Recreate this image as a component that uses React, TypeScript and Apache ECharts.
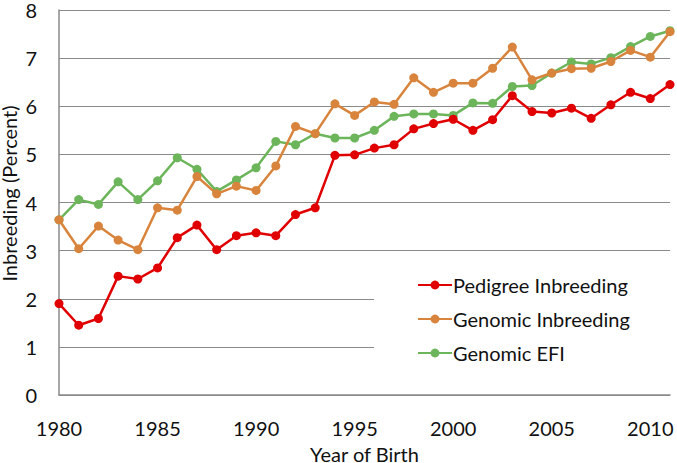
import React, { useEffect, useRef } from "react";
import * as echarts from "echarts";

const years: string[] = [];
for (let y = 1980; y <= 2011; y++) years.push(String(y));

const pedigree = [
  1.9, 1.45, 1.59, 2.47, 2.41, 2.64, 3.27, 3.53, 3.02, 3.31, 3.37,
  3.31, 3.75, 3.89, 4.98, 4.99, 5.13, 5.2, 5.53, 5.64, 5.73,
  5.5, 5.72, 6.22, 5.89, 5.86, 5.96, 5.75, 6.03, 6.29, 6.16, 6.45,
];
const genomic = [
  3.64, 3.04, 3.51, 3.22, 3.02, 3.89, 3.84, 4.54, 4.18, 4.34, 4.25,
  4.76, 5.58, 5.43, 6.05, 5.81, 6.09, 6.04, 6.59, 6.29, 6.48,
  6.48, 6.79, 7.23, 6.55, 6.69, 6.78, 6.79, 6.93, 7.16, 7.02, 7.55,
];
const efi = [
  3.64, 4.06, 3.96, 4.43, 4.06, 4.45, 4.93, 4.69, 4.23, 4.47, 4.72,
  5.27, 5.2, 5.43, 5.34, 5.34, 5.5, 5.79, 5.84, 5.84, 5.81,
  6.07, 6.06, 6.41, 6.43, 6.69, 6.92, 6.88, 7.01, 7.24, 7.45, 7.57,
];

const seriesNames = ["Pedigree Inbreeding", "Genomic Inbreeding", "Genomic EFI"];
const colors = ["#e00000", "#d9843c", "#6cb55a"];
const FONT = "Lato";

export default function App() {
  const ref = useRef<HTMLDivElement>(null);
  useEffect(() => {
    if (!ref.current) return;
    const chart = echarts.init(ref.current, null, { renderer: "svg" });
    const data = [pedigree, genomic, efi];
    chart.setOption({
      animation: false,
      backgroundColor: "#fff",
      textStyle: { fontFamily: FONT },
      grid: { left: 59, right: 7, top: 10, bottom: 68, outerBoundsMode: "none", containLabel: false },
      xAxis: {
        type: "category",
        data: years,
        boundaryGap: false,
        axisLine: { show: true, lineStyle: { color: "#8a8a8a", width: 1.5 } },
        axisTick: { show: false },
        axisLabel: { interval: 4, color: "#111", fontSize: 20, lineHeight: 18, margin: 24, fontFamily: FONT },
        splitLine: { show: false },
        name: "Year of Birth",
        nameLocation: "middle",
        nameGap: 50,
        nameMoveOverlap: false,
        nameTextStyle: { color: "#111", fontSize: 20, lineHeight: 18, fontFamily: FONT },
      },
      yAxis: {
        type: "value",
        min: 0,
        max: 8,
        interval: 1,
        axisLine: { show: true, lineStyle: { color: "#8a8a8a", width: 1.5 } },
        axisTick: { show: false },
        axisLabel: { color: "#111", fontSize: 20, lineHeight: 16, margin: 22, fontFamily: FONT },
        splitLine: { show: true, lineStyle: { color: "#8a8a8a", width: 1.2 } },
        name: "Inbreeding (Percent)",
        nameLocation: "middle",
        nameGap: 42,
        nameMoveOverlap: false,
        nameTextStyle: { color: "#111", fontSize: 20, lineHeight: 17, fontFamily: FONT, padding: [0, 0, 0, 18] },
      },
      legend: {
        orient: "vertical",
        left: 374,
        top: 255,
        padding: [20, 45, 30, 43],
        backgroundColor: "#fff",
        itemWidth: 34,
        itemHeight: 11,
        itemGap: 14,
        textStyle: { color: "#111", fontSize: 20, fontFamily: FONT, padding: [0, 0, 0, -4] },
        data: seriesNames,
      },
      series: seriesNames.map((name, i) => ({
        name,
        type: "line",
        data: data[i],
        symbol: "circle",
        symbolSize: 9,
        color: colors[i],
        lineStyle: { color: colors[i], width: 2.5 },
        itemStyle: { color: colors[i] },
        z: 3 - i,
      })),
    });
    return () => chart.dispose();
  }, []);
  return (
    <div
      ref={ref}
      style={{ position: "fixed", left: 0, top: 0, width: 677, height: 463 }}
    />
  );
}
